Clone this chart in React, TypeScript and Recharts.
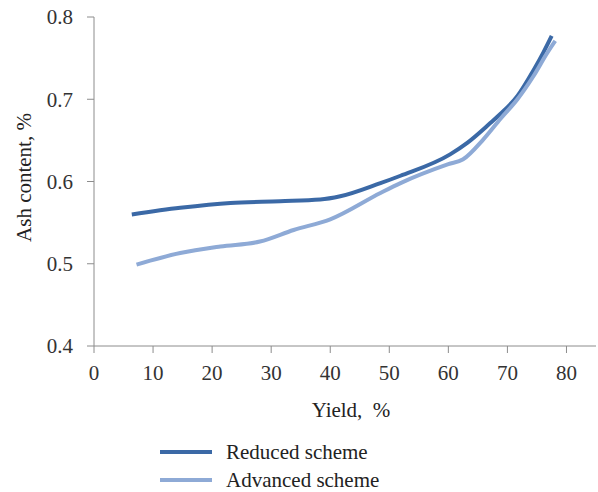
import React from 'react';
import { LineChart, Line, XAxis, YAxis } from 'recharts';

const xTicks = [0, 10, 20, 30, 40, 50, 60, 70, 80];
const yTicks = [0.4, 0.5, 0.6, 0.7, 0.8];

const reducedYield = [6.4, 14.6, 23.1, 31.5, 38.3, 41.7, 48.5, 51.9, 60.3, 63.2, 67.1, 68.8, 71.7, 74.4, 76.1, 77.5];
const reducedAsh = [0.56, 0.568, 0.574, 0.576, 0.578, 0.582, 0.598, 0.607, 0.633, 0.647, 0.671, 0.682, 0.704, 0.735, 0.757, 0.777];

const advancedYield = [7.2, 14.6, 21.4, 28.1, 33.8, 40, 48.5, 51.9, 60, 62.5, 65.9, 68.8, 71.7, 74.4, 76.8, 78.1];
const advancedAsh = [0.499, 0.513, 0.521, 0.527, 0.541, 0.554, 0.586, 0.598, 0.621, 0.627, 0.651, 0.676, 0.7, 0.728, 0.757, 0.771];

const reduced = reducedYield.map((x, i) => ({ x, y: reducedAsh[i] }));
const advanced = advancedYield.map((x, i) => ({ x, y: advancedAsh[i] }));

const DARK = '#3b69a6';
const LIGHT = '#8eaad6';
const FONT = '"Liberation Serif", "Times New Roman", serif';

const legendItems = [
  { name: 'Reduced scheme', color: DARK },
  { name: 'Advanced scheme', color: LIGHT },
];

const App: React.FC = () => {
  const tickStyle = { fontFamily: FONT, fontSize: 21, fill: '#333' };
  return (
    <div style={{ position: 'absolute', left: 0, top: 0, width: 598, height: 492, background: '#fff', fontFamily: FONT }}>
      <LineChart width={598} height={492} margin={{ top: 17, right: 2, left: 0, bottom: 0 }} style={{ fontFamily: FONT }}>
        <XAxis
          type="number"
          dataKey="x"
          domain={[0, 85]}
          ticks={xTicks}
          stroke="#8c8c8c"
          tickSize={7}
          tickMargin={12}
          tick={tickStyle}
          height={146}
          label={{ value: 'Yield,\u00a0 %', position: 'insideTop', offset: 56, dx: 6, style: { fontFamily: FONT, fontSize: 21, fill: '#222' } }}
        />
        <YAxis
          type="number"
          dataKey="y"
          domain={[0.4, 0.8]}
          ticks={yTicks}
          stroke="#8c8c8c"
          tickSize={7}
          tickMargin={14}
          tick={tickStyle}
          width={94}
          tickFormatter={(v: number) => v.toFixed(1)}
          label={{ value: 'Ash content, %', angle: -90, position: 'insideLeft', offset: 24, dy: -4, style: { fontFamily: FONT, fontSize: 21, fill: '#222', textAnchor: 'middle' } }}
        />
        <Line data={reduced} dataKey="y" type="monotone" stroke={DARK} strokeWidth={4} dot={false} isAnimationActive={false} name="Reduced scheme" />
        <Line data={advanced} dataKey="y" type="monotone" stroke={LIGHT} strokeWidth={4} dot={false} isAnimationActive={false} name="Advanced scheme" />
      </LineChart>
      <div style={{ position: 'absolute', left: 160, top: 438, fontSize: 21, color: '#222' }}>
        {legendItems.map((item) => (
          <div key={item.name} style={{ display: 'flex', alignItems: 'center', height: 28 }}>
            <div style={{ width: 52, height: 4, background: item.color, marginRight: 14 }} />
            <span>{item.name}</span>
          </div>
        ))}
      </div>
    </div>
  );
};

export default App;
